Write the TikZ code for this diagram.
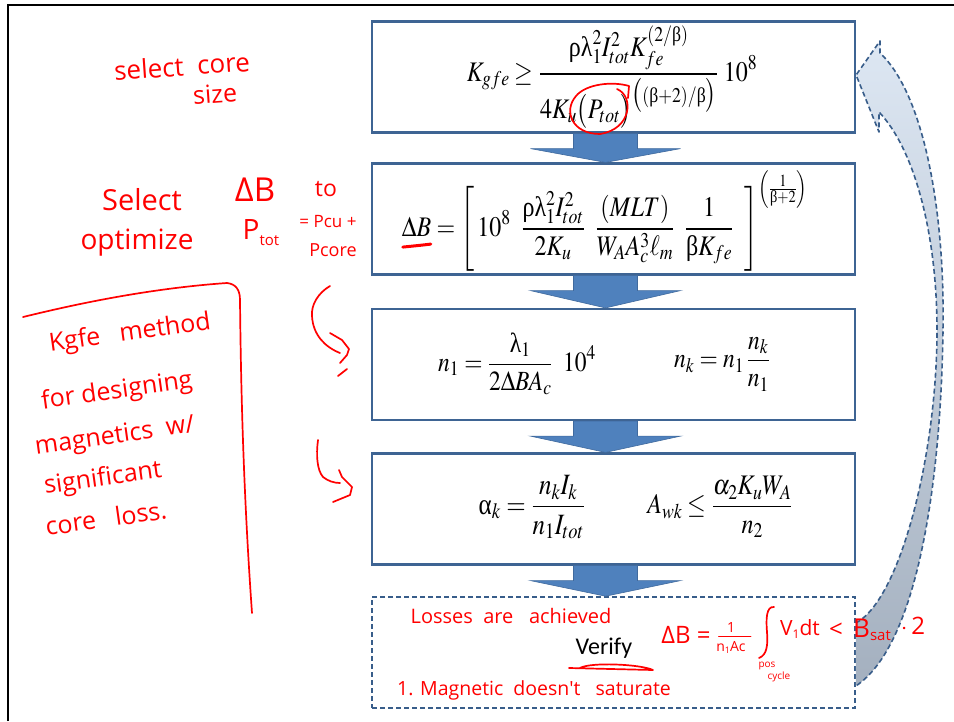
\documentclass[tikz,border=0pt]{standalone}
\usepackage{amsmath}
\usepackage{graphicx}
\usepackage{mathptmx}
\usepackage{fontspec}
\setmainfont{Liberation Serif}
\newfontfamily\handfont{Open Sans}
\newfontfamily\califont{Carlito}
\newfontfamily\grkfont{Liberation Serif}
\newcommand\gr[1]{\text{\grkfont #1}}
\newcommand\tallmath[1]{\scalebox{1}[1.18]{#1}}
\definecolor{boxline}{RGB}{62,100,147}
\definecolor{arrowfill}{RGB}{79,129,189}
\definecolor{arrowline}{RGB}{64,106,158}
\definecolor{bandtop}{RGB}{221,231,243}
\definecolor{bandbot}{RGB}{164,176,191}
\definecolor{dashline}{RGB}{56,93,138}
\definecolor{ink}{RGB}{255,0,0}
\tikzset{
  stepbox/.style={draw=boxline, line width=2.2pt, fill=white, minimum width=483pt, minimum height=111pt, inner sep=0pt},
  verifybox/.style={stepbox, dashed, draw=dashline, dash pattern=on 5pt off 3pt, line width=1.6pt},
  blockarrow/.style={fill=arrowfill, draw=arrowline, line width=0.6pt},
  formula/.style={inner sep=0pt, font=\fontsize{#1}{#1}\selectfont},
  formula/.default=22,
  hw/.style={draw=ink, line width=1.7pt, line cap=round, line join=round},
  hwtext/.style={text=ink, inner sep=0pt, font=\handfont\fontsize{#1}{#1}\selectfont},
  hwtext/.default=20
}
\begin{document}
\begin{tikzpicture}[x=1pt,y=-1pt]
\useasboundingbox (0,0) rectangle (954,721);
\fill[white] (0,0) rectangle (954,721);
% slide frame
\draw[line width=2.6pt] (8,721) -- (8,5) -- (954,5);

% boxes
\node[stepbox] (b1) at (613.5,77) {};
\node[stepbox] (b2) at (613.5,219) {};
\node[stepbox] (b3) at (613.5,364.5) {};
\node[stepbox] (b4) at (613.5,509) {};
\node[verifybox] (b5) at (613.5,652.5) {};

% block arrows
\foreach \a/\b in {b1/b2,b2/b3,b3/b4,b4/b5}{
  \path (\a.south) ++(-8,0) coordinate (s) (\b.north) ++(-8,0) coordinate (t);
  \draw[blockarrow] ([xshift=-32pt]s) -- ([xshift=32pt]s) -- ([xshift=32pt,yshift=-15pt]s)
     -- ([xshift=75pt,yshift=-15pt]s) -- (t) -- ([xshift=-75pt,yshift=-15pt]s)
     -- ([xshift=-32pt,yshift=-15pt]s) -- cycle;
}

% curved return arrow
\coordinate (rtip) at (b1.east |- 0,75);
\coordinate (rbot) at (b5.east |- 0,686);
\coordinate (rtop) at (b5.east |- 0,623);
\shade[top color=bandtop, bottom color=bandbot]
  (rtip) -- (880,41) -- (880,53)
  .. controls (925,95) and (945,215) .. (943,330)
  .. controls (941,480) and (918,645) .. (rbot)
  -- (rtop)
  .. controls (900,600) and (937,455) .. (937,330)
  .. controls (937,235) and (915,150) .. (879,112)
  -- (879,132) -- cycle;
\draw[dashline, line width=1.6pt, dash pattern=on 5pt off 3pt, line join=round]
  (rtop) .. controls (900,600) and (937,455) .. (937,330)
  .. controls (937,235) and (915,150) .. (879,112)
  -- (879,132) -- (rtip) -- (880,41) -- (880,53)
  .. controls (925,95) and (945,215) .. (943,330)
  .. controls (941,480) and (918,645) .. (rbot);

% formulas
\node[formula=24] (f1) at (612,77) {\tallmath{$\displaystyle K_{gfe} \geq \frac{\gr{ρ}\gr{λ}_1^2 I_{tot}^2 K_{fe}^{\left(2/\gr{β}\right)}}{4K_u\bigl(P_{tot}\bigr)^{\bigl((\gr{β}+2)/\gr{β}\bigr)}}\;10^8$}};
\node[formula=24] (f2) at (605,221) {\tallmath{$\displaystyle \Delta B = \left[\,10^8\;\;\frac{\gr{ρ}\gr{λ}_1^2 I_{tot}^2}{2K_u}\;\;\frac{(MLT)}{W_A A_c^3 \ell_m}\;\;\frac{1}{\gr{β}K_{fe}}\;\;\right]^{\left(\frac{1}{\gr{β}+2}\right)}$}};
\node[formula=23.5] (f3) at (517,364) {\tallmath{$\displaystyle n_1 = \frac{\gr{λ}_1}{2\Delta B A_c}\;\;10^4$}};
\node[formula=23.5] (f4) at (722,364) {\tallmath{$\displaystyle n_k = n_1\,\frac{n_k}{n_1}$}};
\node[formula=25] (f5) at (532,507) {\tallmath{$\displaystyle \gr{α}_k = \frac{n_k I_k}{n_1 I_{tot}}$}};
\node[formula=24] (f6) at (720,507) {\tallmath{$\displaystyle A_{wk} \leq \frac{\alpha_2 K_u W_A}{n_2}$}};
\node[inner sep=0pt, font=\califont\fontsize{24}{28}\selectfont] (ver) at (604,648) {Verify};

% handwritten annotations
\node[hwtext=26, rotate=4] (h1) at (182,66) {select \ core};
\node[hwtext=25, rotate=4] (h2) at (215,94) {size};
\node[hwtext=29] (h3) at (142,200) {Select};
\node[hwtext=33] (h4) at (255,190) {ΔB};
\node[hwtext=23] (h5) at (326,189) {to};
\node[hwtext=28] (h6) at (137,243) {optimize};
\node[hwtext=28] (h7) at (261,233) {P\raisebox{-6pt}{\fontsize{15}{15}\selectfont tot}};
\node[hwtext=17] (h8) at (328,222) {= Pcu +};
\node[hwtext=18] (h9) at (333,250) {Pcore};

\node[hwtext=25, rotate=8] (k1) at (130,334) {Kgfe \ \ method};
\node[hwtext=25, rotate=8] (k2) at (117,392) {for designing};
\node[hwtext=25, rotate=8] (k3) at (115,437) {magnetics \ w/};
\node[hwtext=25, rotate=8] (k4) at (103,479) {significant};
\node[hwtext=25, rotate=8] (k5) at (106,518) {core \ \ loss.};

\node[hwtext=20] (l1) at (511,616) {Losses \ are \ \ achieved};
\node[hwtext=19.5] (l2) at (534,690) {1. Magnetic \ doesn't \ \ saturate};

\node[hwtext=24] (d1) at (686,635) {ΔB =};
\node[hwtext=14] (d2) at (731,627) {1};
\node[hwtext=14] (d3) at (731,647) {n\raisebox{-2pt}{\fontsize{9}{9}\selectfont 1}Ac};
\draw[hw, line width=1.3pt] (d2.south west) ++(-8,4) -- ++(32,0);
\node[hwtext=21] (d4) at (800,629) {V\raisebox{-3pt}{\fontsize{12}{12}\selectfont 1}dt};
\node[hwtext=24] (d5) at (836,630) {<};
\node[hwtext=26] (d6) at (872,630) {B\raisebox{-3pt}{\fontsize{15}{15}\selectfont sat}};
\node[hwtext=24] (d7) at (913,626) {$\cdot$\,2};
\node[hwtext=10] (d8) at (767,666) {pos};
\node[hwtext=10] (d9) at (779,677) {cycle};
\draw[hw] (774,607) .. controls (766,606) and (766,620) .. (767,632) .. controls (768,645) and (767,655) .. (759,658);

% handwritten strokes
\draw[hw] (617,89) .. controls (634,96) and (632,129) .. (600,134)
  .. controls (572,134) and (563,111) .. (576,96)
  .. controls (586,84) and (612,81) .. (629,86) -- (628,98);
\draw[hw, line width=3pt] ([xshift=1pt,yshift=-11pt]f2.base west) .. controls +(10,-1) and +(-8,1) .. ++(28,-3);
\draw[hw] (569,668) -- (653,670) .. controls (640,664) and (590,662) .. (580,668);
\draw[hw] (23,317) .. controls (60,308) and (140,289) .. (227,283)
  .. controls (236,284) and (240,290) .. (240,300)
  .. controls (241,400) and (244,500) .. (252,613);
\draw[hw] (330,286) .. controls (318,293) and (311,305) .. (312,316)
  .. controls (313,335) and (325,347) .. (340,353);
\draw[hw] (330,333) -- (342,340) -- (349,349) -- (347,355) -- (340,363);
\draw[hw] (338,376) -- (347,369);
\draw[hw] (318,440) .. controls (316,455) and (317,470) .. (323,477)
  .. controls (328,481) and (334,483) .. (340,483);
\draw[hw] (339,470) -- (342,477) -- (352,487) -- (350,495) -- (333,502);
\end{tikzpicture}
\end{document}
